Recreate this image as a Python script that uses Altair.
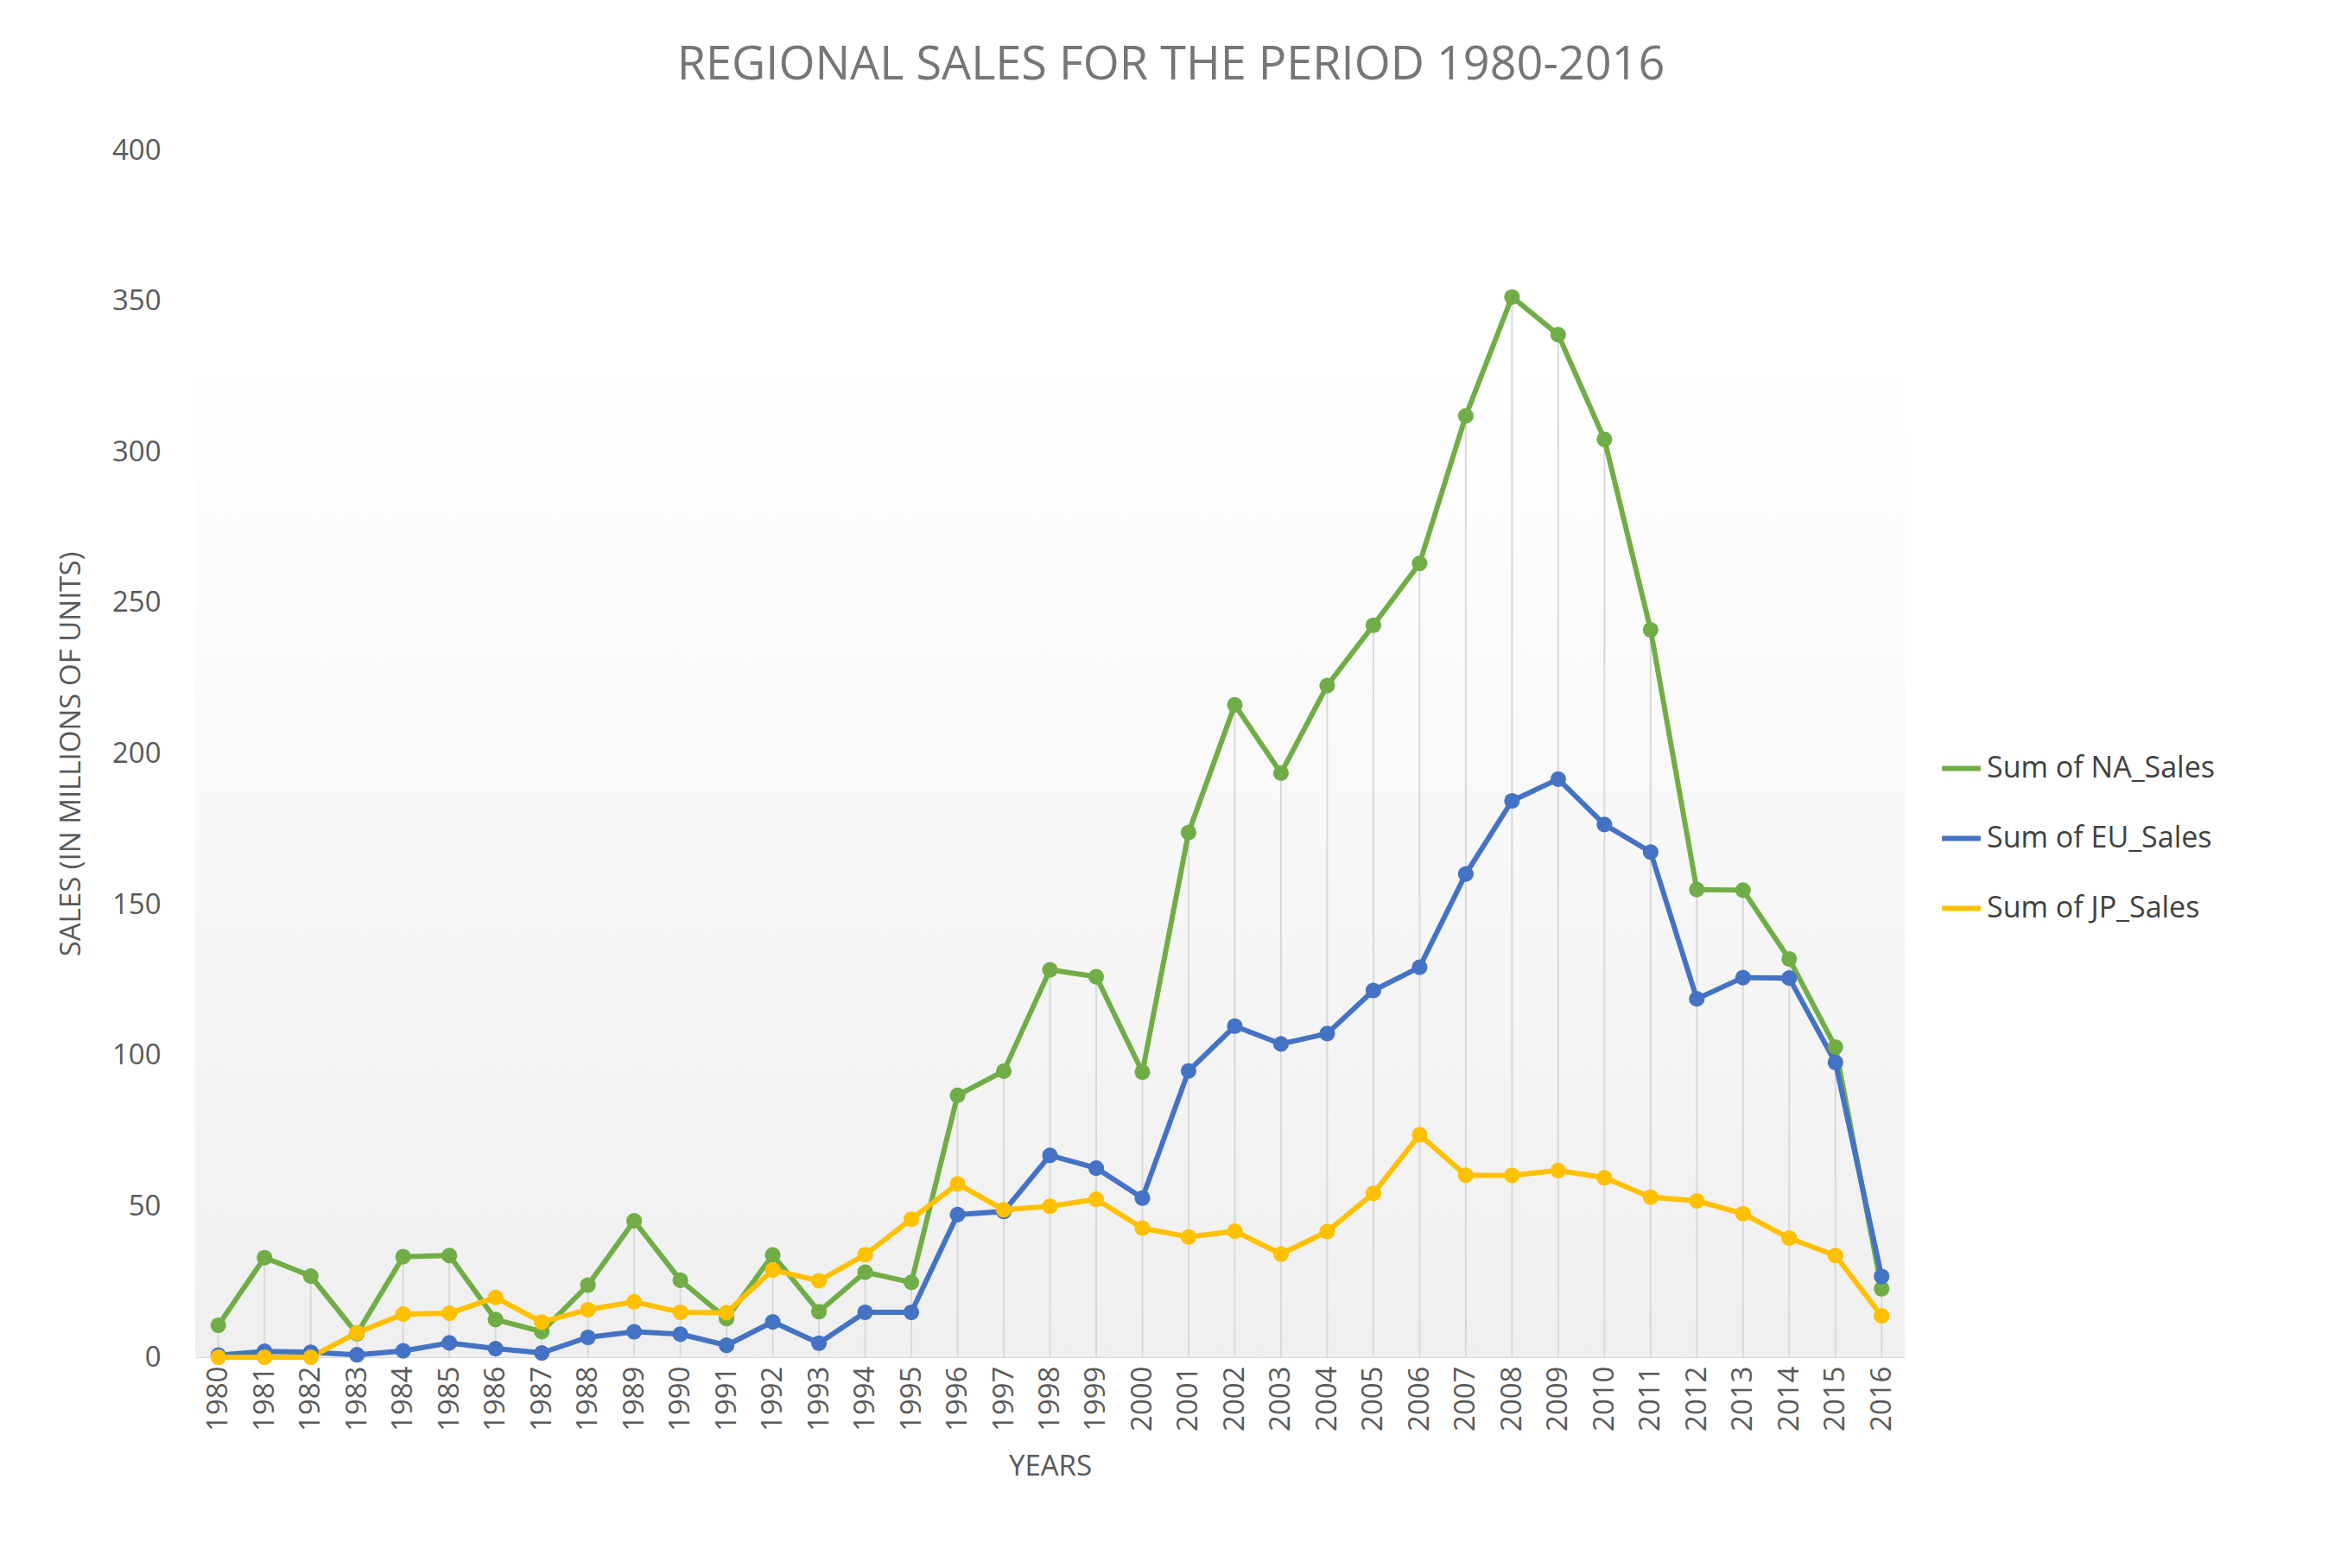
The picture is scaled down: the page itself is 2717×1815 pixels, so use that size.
import altair as alt
import pandas as pd

years = list(range(1980, 2017))
na_sales = [10.6, 33.0, 26.9, 7.8, 33.3, 33.7, 12.5, 8.5, 23.9, 45.2, 25.5, 12.8, 33.9, 15.1, 28.2, 24.8,
            86.8, 94.8, 128.4, 126.1, 94.5, 173.9, 216.2, 193.6, 222.6, 242.6, 263.1, 312.0, 351.4, 338.9,
            304.2, 241.1, 155.0, 154.8, 132.0, 102.8, 22.7]
eu_sales = [0.67, 1.96, 1.65, 0.8, 2.1, 4.74, 2.84, 1.41, 6.59, 8.44, 7.63, 3.95, 11.71, 4.65, 14.88, 14.9,
            47.26, 48.32, 66.9, 62.67, 52.75, 94.89, 109.74, 103.81, 107.27, 121.55, 129.24, 160.18, 184.4,
            191.59, 176.57, 167.44, 118.78, 125.8, 125.65, 97.71, 26.76]
jp_sales = [0, 0, 0, 8.1, 14.27, 14.56, 19.81, 11.63, 15.76, 18.36, 14.88, 14.78, 28.91, 25.33, 33.99, 45.75,
            57.44, 48.87, 50.04, 52.34, 42.77, 39.86, 41.76, 34.2, 41.65, 54.28, 73.73, 60.29, 60.26, 61.89,
            59.49, 53.04, 51.8, 47.59, 39.46, 33.72, 13.7]
series = ["Sum of NA_Sales", "Sum of EU_Sales", "Sum of JP_Sales"]
colors = ["#70ad47", "#4472c4", "#ffc000"]

rows = []
for s, vals in zip(series, [na_sales, eu_sales, jp_sales]):
    for y, v in zip(years, vals):
        rows.append({"year": str(y), "series": s, "value": v})
df = pd.DataFrame(rows)
df_na = pd.DataFrame({"year": [str(y) for y in years], "value": na_sales})

W, H = 1979, 1397
FONT = "Open Sans"

xenc = alt.X("year:O", scale=alt.Scale(type="point", padding=0.5),
             axis=alt.Axis(title="YEARS", labelAngle=-90, labelFontSize=33, titleFontSize=33,
                           labelColor="#595959", titleColor="#595959", titleFontWeight="normal",
                           domainColor="#d9d9d9", ticks=False, grid=False, labelPadding=10,
                           titlePadding=25))
yscale = alt.Scale(domain=[0, 400])

bg = alt.Chart(pd.DataFrame({"a": [0]})).mark_rect(
    fill=alt.Gradient(gradient="linear", stops=[alt.GradientStop(color="#ffffff", offset=0),
                                                 alt.GradientStop(color="#ffffff", offset=0.18),
                                                 alt.GradientStop(color="#efefef", offset=1)],
                      x1=0, x2=0, y1=0, y2=1)
).encode(x=alt.value(0), x2=alt.value(W), y=alt.value(0), y2=alt.value(H))

drops = alt.Chart(df_na).mark_rule(color="#d9d9d9", strokeWidth=2).encode(
    x=xenc, y=alt.Y("value:Q", scale=yscale), y2=alt.datum(0))

lines = alt.Chart(df).mark_line(strokeWidth=6, point=alt.OverlayMarkDef(size=330, filled=True, opacity=1)).encode(
    x=xenc,
    y=alt.Y("value:Q", scale=yscale,
            axis=alt.Axis(title="SALES (IN MILLIONS OF UNITS)", values=list(range(0, 401, 50)),
                          labelFontSize=33, titleFontSize=33, labelColor="#595959", titleColor="#595959",
                          titleFontWeight="normal", grid=False, domain=False, ticks=False, labelPadding=40,
                          titlePadding=30)),
    color=alt.Color("series:N", scale=alt.Scale(domain=series, range=colors),
                    legend=alt.Legend(title=None, orient="none", legendX=W + 40, legendY=690,
                                      labelFontSize=34, labelColor="#404040", symbolType="stroke",
                                      symbolStrokeWidth=6, symbolSize=2000, rowPadding=38,
                                      labelLimit=500)),
    order=alt.Order("year:O"))

chart = alt.layer(bg, drops, lines).properties(
    width=W, height=H,
    title=alt.TitleParams("REGIONAL SALES FOR THE PERIOD 1980-2016", fontSize=54, color="#767676",
                          fontWeight="normal", offset=55, dx=140),
    autosize=alt.AutoSizeParams(type="none"),
    padding={"left": 218, "top": 166, "right": 500, "bottom": 230},
).configure(font=FONT).configure_view(stroke=None)

chart.save("out.html", embed_options={"renderer": "svg", "actions": False})
